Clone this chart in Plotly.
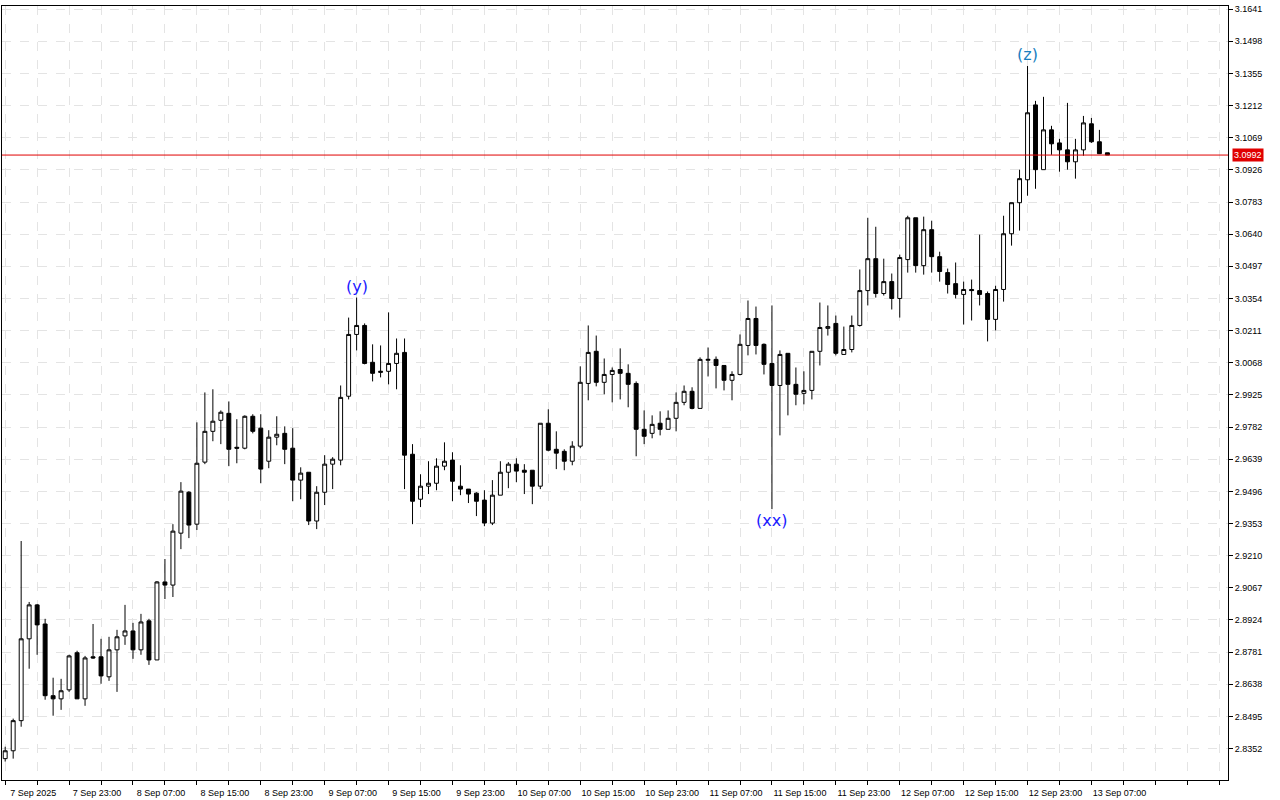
import plotly.graph_objects as go
import pandas as pd

start = pd.Timestamp("2025-09-07 15:00")

opens = [2.8307,2.8342,2.8476,2.8840,2.8991,2.8906,2.8587,2.8573,2.8613,2.8778,2.8573,2.8760,2.8760,2.8671,2.8791,2.8853,2.8875,2.8791,2.8920,2.8746,
2.9093,2.9079,2.9310,2.9492,2.9350,2.9626,2.9763,2.9812,2.9843,2.9692,2.9688,2.9830,2.9777,2.9630,2.9737,2.9754,2.9688,2.9546,2.9581,2.9364,
2.9492,2.9617,2.9635,2.9919,3.0194,3.0234,3.0070,3.0025,3.0030,3.0065,3.0114,2.9661,2.9461,2.9519,2.9532,2.9608,2.9635,2.9519,2.9506,2.9488,
2.9457,2.9355,2.9479,2.9581,2.9617,2.9590,2.9590,2.9519,2.9799,2.9683,2.9674,2.9630,2.9697,2.9976,3.0119,2.9981,3.0016,3.0038,3.0021,2.9976,
2.9772,2.9754,2.9799,2.9772,2.9821,2.9892,2.9941,2.9865,3.0079,3.0083,3.0056,2.9990,3.0016,3.0145,3.0265,3.0150,3.0065,2.9967,3.0110,2.9972,
2.9932,2.9945,3.0119,3.0221,3.0243,3.0105,3.0127,3.0234,3.0389,3.0531,3.0376,3.0429,3.0354,3.0527,3.0713,3.0500,3.0660,3.0540,3.0469,3.0420,
3.0372,3.0394,3.0389,3.0376,3.0261,3.0394,3.0642,3.0780,3.0882,3.1215,3.0927,3.1104,3.1046,3.1015,3.0962,3.1015,3.1131,3.1051,3.1002]
highs = [2.8360,2.8485,2.9275,2.9004,2.8995,2.8929,2.8667,2.8662,2.8769,2.8787,2.8764,2.8906,2.8840,2.8849,2.8880,2.8991,2.8911,2.8951,2.8929,2.9097,
2.9195,2.9350,2.9537,2.9497,2.9803,2.9936,2.9950,2.9856,2.9896,2.9817,2.9834,2.9839,2.9839,2.9768,2.9830,2.9785,2.9777,2.9603,2.9581,2.9519,
2.9657,2.9648,2.9967,3.0269,3.0358,3.0243,3.0150,3.0145,3.0292,3.0176,3.0176,2.9706,2.9572,2.9630,2.9643,2.9714,2.9670,2.9612,2.9506,2.9492,
2.9501,2.9546,2.9630,2.9626,2.9643,2.9617,2.9590,2.9799,2.9861,2.9763,2.9683,2.9719,3.0052,3.0234,3.0189,3.0087,3.0047,3.0132,3.0061,2.9985,
2.9856,2.9834,2.9852,2.9856,2.9936,2.9967,2.9959,3.0092,3.0136,3.0096,3.0056,3.0030,3.0194,3.0345,3.0318,3.0154,3.0323,3.0123,3.0110,3.0047,
3.0030,3.0119,3.0336,3.0323,3.0278,3.0229,3.0278,3.0483,3.0713,3.0673,3.0531,3.0465,3.0549,3.0722,3.0713,3.0718,3.0700,3.0562,3.0487,3.0514,
3.0429,3.0438,3.0638,3.0385,3.0411,3.0722,3.0780,3.0927,3.1388,3.1233,3.1251,3.1122,3.1064,3.1224,3.1064,3.1166,3.1157,3.1104,3.1002]
lows = [2.8294,2.8307,2.8449,2.8707,2.8769,2.8569,2.8498,2.8524,2.8604,2.8573,2.8542,2.8751,2.8640,2.8653,2.8604,2.8813,2.8751,2.8769,2.8724,2.8746,
2.9017,2.9026,2.9239,2.9288,2.9324,2.9617,2.9719,2.9706,2.9608,2.9621,2.9683,2.9754,2.9532,2.9599,2.9701,2.9617,2.9452,2.9461,2.9346,2.9328,
2.9435,2.9506,2.9612,2.9905,3.0123,3.0061,2.9985,3.0003,2.9972,2.9950,2.9506,2.9350,2.9426,2.9484,2.9501,2.9590,2.9452,2.9479,2.9444,2.9386,
2.9341,2.9346,2.9479,2.9510,2.9537,2.9484,2.9439,2.9506,2.9674,2.9595,2.9590,2.9612,2.9688,2.9901,2.9963,2.9928,2.9892,2.9905,2.9870,2.9652,
2.9706,2.9732,2.9745,2.9772,2.9763,2.9879,2.9861,2.9865,3.0007,2.9954,2.9945,2.9901,3.0012,3.0101,3.0105,3.0016,2.9417,2.9745,2.9834,2.9879,
2.9883,2.9905,3.0056,3.0189,3.0101,3.0105,3.0114,3.0229,3.0323,3.0358,3.0367,3.0305,3.0269,3.0469,3.0469,3.0460,3.0469,3.0429,3.0376,3.0354,
3.0238,3.0256,3.0323,3.0163,3.0212,3.0340,3.0589,3.0656,3.0811,3.0842,3.0927,3.0993,3.0918,3.0927,3.0887,3.0989,3.1046,3.1006,3.0992]
closes = [2.8342,2.8476,2.8840,2.8991,2.8902,2.8587,2.8573,2.8609,2.8764,2.8573,2.8755,2.8755,2.8675,2.8791,2.8849,2.8875,2.8791,2.8915,2.8746,2.9093,
2.9079,2.9319,2.9497,2.9346,2.9621,2.9763,2.9808,2.9848,2.9683,2.9688,2.9830,2.9763,2.9595,2.9737,2.9750,2.9683,2.9546,2.9577,2.9364,2.9492,
2.9617,2.9639,2.9914,3.0194,3.0234,3.0065,3.0021,3.0030,3.0065,3.0110,2.9657,2.9452,2.9519,2.9532,2.9608,2.9630,2.9541,2.9506,2.9484,2.9452,
2.9355,2.9479,2.9581,2.9617,2.9586,2.9581,2.9519,2.9799,2.9679,2.9666,2.9630,2.9697,2.9981,3.0114,2.9981,3.0016,3.0034,3.0021,2.9972,2.9772,
2.9741,2.9794,2.9772,2.9821,2.9892,2.9941,2.9865,3.0083,3.0083,3.0056,2.9990,3.0016,3.0150,3.0265,3.0145,3.0061,2.9967,3.0105,2.9972,2.9928,
2.9945,3.0119,3.0225,3.0229,3.0110,3.0127,3.0234,3.0389,3.0531,3.0376,3.0429,3.0354,3.0536,3.0713,3.0500,3.0660,3.0540,3.0474,3.0416,3.0372,
3.0394,3.0389,3.0372,3.0261,3.0394,3.0642,3.0780,3.0887,3.1180,3.0927,3.1104,3.1042,3.1015,3.0962,3.1015,3.1135,3.1051,3.0998,3.0992]

price_ticks = [3.1641,3.1498,3.1355,3.1212,3.1069,3.0926,3.0783,3.0640,3.0497,3.0354,3.0211,3.0068,
               2.9925,2.9782,2.9639,2.9496,2.9353,2.9210,2.9067,2.8924,2.8781,2.8638,2.8495,2.8352]
last_price = 3.0992
wave_labels = [("(y)", 44, "high"), ("(xx)", 96, "low"), ("(z)", 128, "high")]

n = len(opens)
x = list(range(n))

tickvals, ticktext = [], []
for i in range(0, 156, 4):
    tickvals.append(i)
    if i % 8 == 0 and i <= 136:
        t = start + pd.Timedelta(hours=i)
        ticktext.append("7 Sep 2025" if i == 0 else f"{t.day} {t.strftime('%b')} {t.strftime('%H:%M')}")
    else:
        ticktext.append("")

fig = go.Figure(go.Candlestick(
    x=x, open=opens, high=highs, low=lows, close=closes,
    increasing=dict(line=dict(color="black", width=1), fillcolor="white"),
    decreasing=dict(line=dict(color="black", width=1), fillcolor="black"),
    whiskerwidth=0, hoverinfo="skip"))

fig.add_shape(type="line", xref="paper", x0=0, x1=1, yref="y", y0=last_price, y1=last_price,
              line=dict(color="#e00000", width=1))
fig.add_annotation(xref="paper", x=1.0, xanchor="left", y=last_price, yref="y", text=f"{last_price:.4f}",
                   showarrow=False, bgcolor="#e00000", font=dict(color="white", size=9, family="Liberation Sans"),
                   borderpad=1, xshift=4)

for txt, i, side in wave_labels:
    if side == "high":
        fig.add_annotation(x=i, y=highs[i], text=txt, showarrow=False, yanchor="bottom",
                           font=dict(color="#1a1aff" if txt != "(z)" else "#1a7fbf", size=16, family="DejaVu Sans"))
    else:
        fig.add_annotation(x=i, y=lows[i], text=txt, showarrow=False, yanchor="top",
                           font=dict(color="#1a1aff", size=16, family="DejaVu Sans"))

fig.update_layout(
    width=1280, height=800, margin=dict(l=2, r=52, t=6, b=20),
    paper_bgcolor="white", plot_bgcolor="white", showlegend=False,
    font=dict(family="Liberation Sans", size=9, color="black"),
    xaxis=dict(range=[-0.4, 153.1], tickmode="array", tickvals=tickvals, ticktext=ticktext,
               rangeslider=dict(visible=False), showgrid=True, gridcolor="#e4e4e4", griddash="dash",
               showline=True, linecolor="black", mirror=True, ticks="outside", ticklen=4,
               tickcolor="black", ticklabelshift=28, ticklabelstandoff=0, zeroline=False),
    yaxis=dict(side="right", range=[2.8212, 3.1655], tickmode="array", tickvals=price_ticks,
               ticktext=[f"{v:.4f}" for v in price_ticks], showgrid=True, gridcolor="#e4e4e4",
               griddash="dash", showline=True, linecolor="black", mirror=True, ticks="outside",
               ticklen=4, tickcolor="black", zeroline=False),
)

fig.write_html("out.html", config={"displayModeBar": False},
               post_script="document.body.style.margin='0';")
